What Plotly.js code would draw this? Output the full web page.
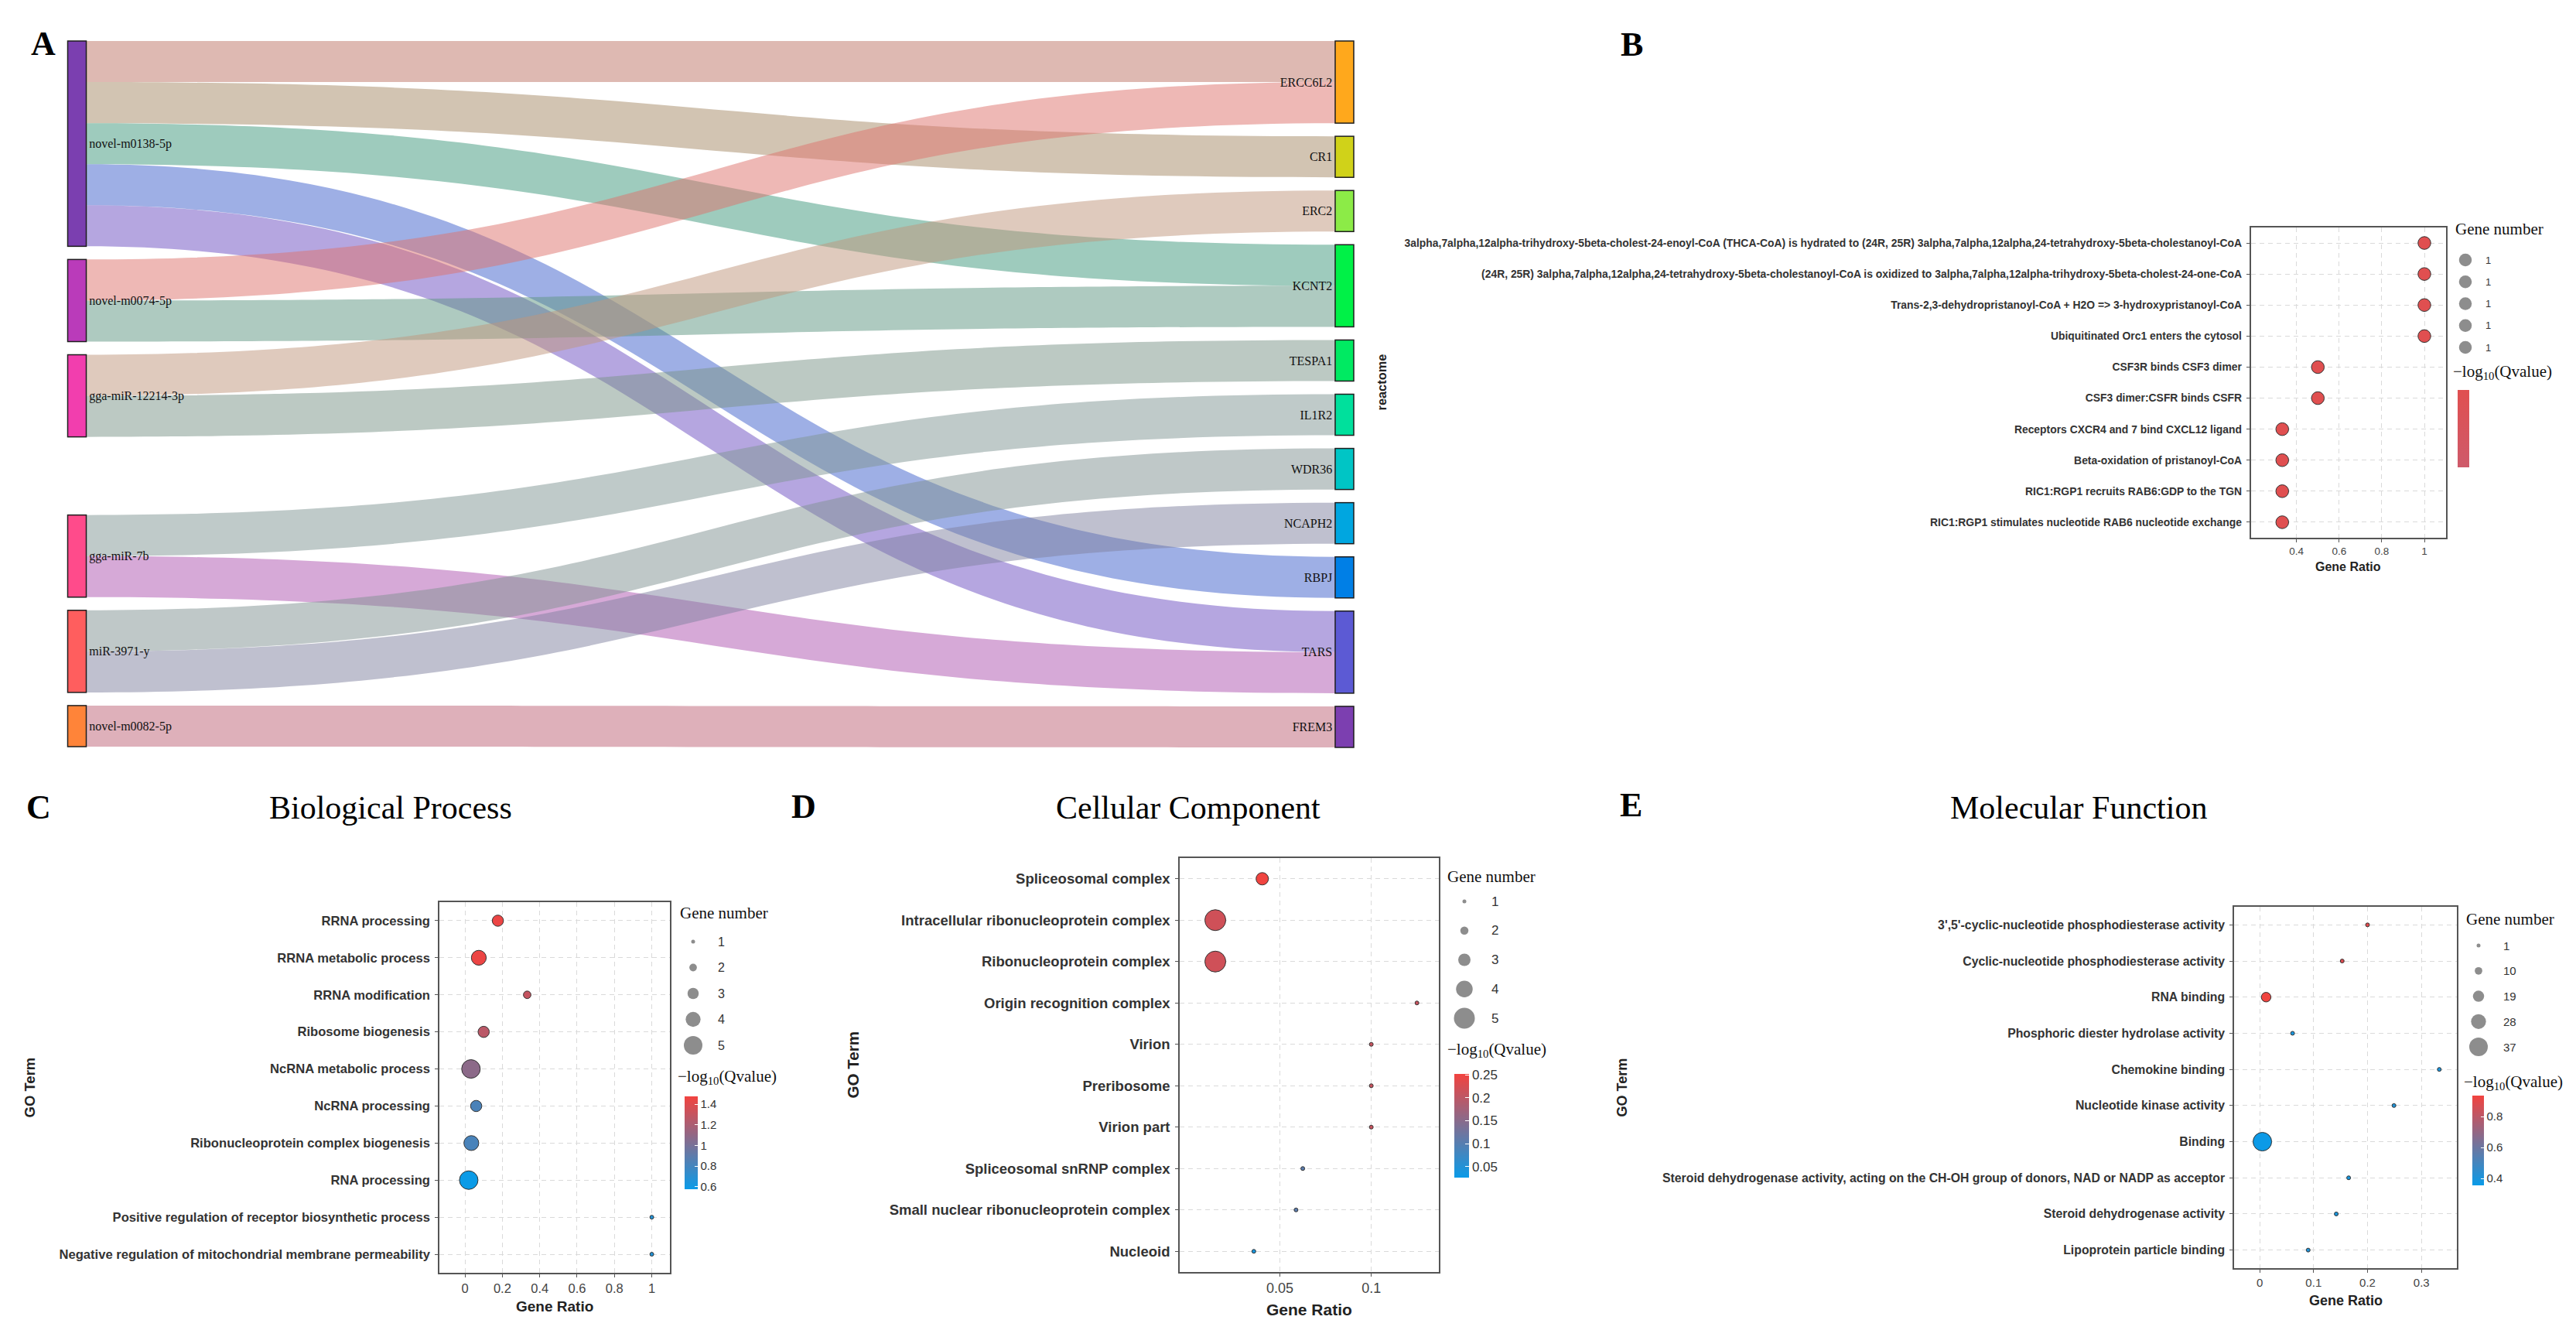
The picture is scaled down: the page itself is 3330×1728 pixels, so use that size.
<!DOCTYPE html>
<html><head><meta charset="utf-8">
<script src="https://cdn.plot.ly/plotly-3.0.1.min.js"></script>
<style>html,body{margin:0;padding:0;background:#fff}#chart{width:3330px;height:1728px}</style>
</head><body><div id="chart"></div>
<script>
// ================= DATA =================
// Panel A : miRNA -> target gene alluvial
const mirnas = ['novel-m0138-5p','novel-m0074-5p','gga-miR-12214-3p','gga-miR-7b','miR-3971-y','novel-m0082-5p'];
const genes = ['ERCC6L2','CR1','ERC2','KCNT2','TESPA1','IL1R2','WDR36','NCAPH2','RBPJ','TARS','FREM3'];
const linkSource = ['novel-m0138-5p','novel-m0138-5p','novel-m0138-5p','novel-m0138-5p','novel-m0138-5p',
  'novel-m0074-5p','novel-m0074-5p','gga-miR-12214-3p','gga-miR-12214-3p','gga-miR-7b','gga-miR-7b',
  'miR-3971-y','miR-3971-y','novel-m0082-5p'];
const linkTarget = ['CR1','ERCC6L2','KCNT2','RBPJ','TARS','ERCC6L2','KCNT2','ERC2','TESPA1','IL1R2','TARS',
  'WDR36','NCAPH2','FREM3'];
const linkValue = [1,1,1,1,1,1,1,1,1,1,1,1,1,1];

// Panel B : reactome
const bTerms = [
 '3alpha,7alpha,12alpha-trihydroxy-5beta-cholest-24-enoyl-CoA (THCA-CoA) is hydrated to (24R, 25R) 3alpha,7alpha,12alpha,24-tetrahydroxy-5beta-cholestanoyl-CoA',
 '(24R, 25R) 3alpha,7alpha,12alpha,24-tetrahydroxy-5beta-cholestanoyl-CoA is oxidized to 3alpha,7alpha,12alpha-trihydroxy-5beta-cholest-24-one-CoA',
 'Trans-2,3-dehydropristanoyl-CoA + H2O => 3-hydroxypristanoyl-CoA',
 'Ubiquitinated Orc1 enters the cytosol',
 'CSF3R binds CSF3 dimer',
 'CSF3 dimer:CSFR binds CSFR',
 'Receptors CXCR4 and 7 bind CXCL12 ligand',
 'Beta-oxidation of pristanoyl-CoA',
 'RIC1:RGP1 recruits RAB6:GDP to the TGN',
 'RIC1:RGP1 stimulates nucleotide RAB6 nucleotide exchange'];
const bRatio = [1,1,1,1,0.5,0.5,0.333,0.333,0.333,0.333];
const bCount = [1,1,1,1,1,1,1,1,1,1];
const bQ = [0.17,0.17,0.17,0.17,0.17,0.17,0.17,0.17,0.17,0.17];
const bLegend = [1,1,1,1,1];

// Panel C : Biological Process
const cTerms = ['RRNA processing','RRNA metabolic process','RRNA modification','Ribosome biogenesis',
 'NcRNA metabolic process','NcRNA processing','Ribonucleoprotein complex biogenesis','RNA processing',
 'Positive regulation of receptor biosynthetic process','Negative regulation of mitochondrial membrane permeability'];
const cRatio = [0.176,0.074,0.333,0.1,0.032,0.06,0.034,0.02,1,1];
const cCount = [3,4,2,3,5,3,4,5,1,1];
const cQ = [1.45,1.45,1.3,1.26,1.08,0.83,0.82,0.58,0.67,0.67];
const cLegend = [1,2,3,4,5];
const cTicks = [0.6,0.8,1,1.2,1.4];

// Panel D : Cellular Component
const dTerms = ['Spliceosomal complex','Intracellular ribonucleoprotein complex','Ribonucleoprotein complex',
 'Origin recognition complex','Virion','Preribosome','Virion part','Spliceosomal snRNP complex',
 'Small nuclear ribonucleoprotein complex','Nucleoid'];
const dRatio = [0.0403,0.0146,0.0146,0.125,0.1,0.1,0.1,0.0625,0.0588,0.0357];
const dCount = [3,5,5,1,1,1,1,1,1,1];
const dQ = [0.25,0.218,0.218,0.21,0.21,0.21,0.21,0.105,0.105,0.04];
const dLegend = [1,2,3,4,5];
const dTicks = [0.05,0.1,0.15,0.2,0.25];

// Panel E : Molecular Function
const eTerms = ["3',5'-cyclic-nucleotide phosphodiesterase activity",'Cyclic-nucleotide phosphodiesterase activity',
 'RNA binding','Phosphoric diester hydrolase activity','Chemokine binding','Nucleotide kinase activity','Binding',
 'Steroid dehydrogenase activity, acting on the CH-OH group of donors, NAD or NADP as acceptor',
 'Steroid dehydrogenase activity','Lipoprotein particle binding'];
const eRatio = [0.2,0.153,0.012,0.061,0.333,0.249,0.005,0.165,0.142,0.09];
const eCount = [1,1,15,1,1,1,37,1,1,1];
const eQ = [0.89,0.88,0.93,0.39,0.40,0.41,0.36,0.39,0.39,0.41];
const eLegend = [1,10,19,28,37];
const eTicks = [0.4,0.6,0.8];

// ================= STYLE / LAYOUT =================
const W = 3330, H = 1728;
const SANS = 'Liberation Sans, Arial, sans-serif';
const SERIF = 'Liberation Serif, Times New Roman, serif';
const px = v => v / W;
const py = v => 1 - v / H;

const mirnaColors = ['#7B3FB0','#BA3BBA','#F23EAE','#FF4B8B','#FF5E5E','#FF8439'];
const geneColors = ['#FFA81C','#D0D219','#8CEB47','#00F147','#00EA62','#00E09C','#00C5C5','#00A6E0','#007FE6','#5C5AD4','#7C3FB0'];

function hex2rgb(h){ return [parseInt(h.slice(1,3),16),parseInt(h.slice(3,5),16),parseInt(h.slice(5,7),16)]; }
function mix(a,b,alpha){ const A=hex2rgb(a),B=hex2rgb(b); return 'rgba('+A.map((v,i)=>Math.round((v+B[i])/2)).join(',')+','+alpha+')'; }

// ----- Sankey geometry -----
const sTop = 53, sBot = 966, sLeft = 0, sRight = 1800, nodePad = 17, nodeThick = 24;
const sH = sBot - sTop, sW = sRight - sLeft;
const nodeLabels = mirnas.concat(genes);
const nodeColors = mirnaColors.concat(geneColors);
const flowOf = name => linkValue.reduce((s,v,i)=> s + ((linkSource[i]===name||linkTarget[i]===name)?v:0), 0);
const totalFlow = linkValue.reduce((a,b)=>a+b,0);
const ky = (sH - (genes.length-1)*nodePad) / totalFlow;
function columnY(names, extraGap){
  let y = 0;
  return names.map((n,i)=>{ y += (extraGap[i]||0); const h = flowOf(n)*ky; const c = y + h/2; y += h + nodePad; return c/sH; });
}
const leftY = columnY(mirnas, [0,0,0,84,0,0]);
const rightY = columnY(genes, []);
const nodeX = mirnas.map(()=> (99.5 - sLeft)/sW).concat(genes.map(()=> (1738 - sLeft)/sW));
const nodeY = leftY.concat(rightY);
const colorOf = n => nodeColors[nodeLabels.indexOf(n)];

const traces = [];
traces.push({
  type:'sankey', arrangement:'fixed', orientation:'h',
  domain:{x:[px(sLeft), px(sRight)], y:[py(sBot), py(sTop)]},
  node:{label:nodeLabels, color:nodeColors, x:nodeX, y:nodeY, pad:nodePad, thickness:nodeThick,
        line:{color:'#1e1e1e', width:1.5}},
  link:{source:linkSource.map(n=>nodeLabels.indexOf(n)), target:linkTarget.map(n=>nodeLabels.indexOf(n)),
        value:linkValue, color:linkSource.map((s,i)=>mix(colorOf(s), colorOf(linkTarget[i]), 0.5))},
  textfont:{family:SERIF, size:16, color:'#111', shadow:'none'}
});

const layout = {
  width:W, height:H, margin:{l:0,r:0,t:0,b:0}, paper_bgcolor:'#fff', plot_bgcolor:'rgba(0,0,0,0)',
  showlegend:false, font:{family:SANS, color:'#333'}, annotations:[]
};
const ann = layout.annotations;
function txt(text,x,y,o){ ann.push(Object.assign({text:text, x:px(x), y:py(y), xref:'paper', yref:'paper',
  showarrow:false, xanchor:'center', yanchor:'middle'}, o||{})); }

const CSCALE = [[0,'#0A9BE8'],[1,'#F2433F']];

function dotPanel(o){
  const n = o.ax, ln = o.ax + 4;
  const sz = v => (o.vmax===o.vmin) ? o.dmax : o.dmin + (o.dmax-o.dmin)*(v-o.vmin)/(o.vmax-o.vmin);
  const cb = {x:px(o.cb.l), xanchor:'left', xpad:0, y:py(o.cb.t), yanchor:'top', ypad:0,
        len:o.cb.len, lenmode:'pixels', thickness:o.cb.th, thicknessmode:'pixels', outlinewidth:0,
        tickfont:{family:SANS, size:o.cb.fs||14, color:'#333'}};
  if (o.cb.ticks) Object.assign(cb, {ticks:'inside', ticklen:Math.round(o.cb.th/4), tickcolor:'#fff', tickwidth:1.2,
        tickvals:o.cb.ticks});
  else Object.assign(cb, {ticks:'', showticklabels:false});
  traces.push({
    type:'scatter', mode:'markers', x:o.ratio, y:o.terms, xaxis:'x'+n, yaxis:'y'+n, cliponaxis:false,
    marker:{size:o.count.map(sz), color:o.q, colorscale:o.cscale, cmin:o.cmin, cmax:o.cmax, opacity:1,
      line:{color:'#333', width:1}, colorbar:cb}
  });
  const tf = {family:SANS, size:o.yfs, color:'#333', weight:700};
  layout['xaxis'+n] = {domain:[px(o.box.l), px(o.box.r)], anchor:'y'+n, range:o.xrange, tickvals:o.xticks,
    showgrid:true, gridcolor:'#DADADA', griddash:'6px,5px', gridwidth:1, zeroline:false,
    showline:true, mirror:true, linecolor:'#555', linewidth:1.5, ticks:'outside', ticklen:4, tickcolor:'#555',
    tickfont:{family:SANS, size:o.xfs, color:'#444'}, fixedrange:true};
  layout['yaxis'+n] = {domain:[py(o.box.b), py(o.box.t)], anchor:'x'+n, type:'category', categoryorder:'array',
    categoryarray:o.terms, range:[o.terms.length-0.5, -0.5], showgrid:true, gridcolor:'#DADADA', griddash:'6px,5px',
    gridwidth:1, zeroline:false, showline:true, mirror:true, linecolor:'#555', linewidth:1.5, ticks:'outside',
    ticklen:4, tickcolor:'#555', ticklabelstandoff:3, tickfont:tf, fixedrange:true};
  // size legend (gene number)
  const L = o.leg, N = o.legend.length;
  traces.push({type:'scatter', mode:'markers', x:o.legend.map(()=>0), y:o.legend.map((v,i)=>i),
    xaxis:'x'+ln, yaxis:'y'+ln, cliponaxis:false, hoverinfo:'skip',
    marker:{size:o.legend.map(sz), color:'#5C5C5C', line:{width:0}}});
  layout['xaxis'+ln] = {domain:[px(L.dotX-15), px(L.dotX+15)], range:[-1,1], visible:false, anchor:'y'+ln, fixedrange:true};
  layout['yaxis'+ln] = {domain:[py(L.y0 + (N-0.5)*L.step), py(L.y0 - 0.5*L.step)], range:[N-0.5,-0.5], visible:false,
    anchor:'x'+ln, fixedrange:true};
  o.legend.forEach((v,i)=>ann.push({text:String(v), x:px(L.labX), xref:'paper', y:i, yref:'y'+ln, showarrow:false,
    xanchor:'left', yanchor:'middle', font:{family:SANS, size:L.fs, color:'#333'}}));
  txt('Gene number', L.titleX, L.titleY, {xanchor:'left', font:{family:SERIF, size:21, color:'#111'}});
  txt('\u2212log<sub>10</sub>(Qvalue)', o.qt.x, o.qt.y, {xanchor:'left', font:{family:SERIF, size:21, color:'#111'}});
}

// B
dotPanel({ax:2, terms:bTerms, ratio:bRatio, count:bCount, q:bQ, vmin:1, vmax:1, dmin:16.5, dmax:16.5,
  cscale:[[0,'#CE5A6A'],[1,'#E04F50']], cmin:0.16, cmax:0.17,
  box:{l:2909.5, r:3162, t:294, b:695}, xrange:[0.185,1.1016], xticks:[0.4,0.6,0.8,1], xfs:13.5, yfs:13.9,
  cb:{l:3177, t:504, len:100, th:15},
  leg:{dotX:3187, labX:3211, y0:336, step:28.25, fs:13, titleX:3172, titleY:296}, legend:bLegend,
  qt:{x:3169, y:481}});
// C
dotPanel({ax:3, terms:cTerms, ratio:cRatio, count:cCount, q:cQ, vmin:1, vmax:5, dmin:5, dmax:24,
  cscale:CSCALE, cmin:0.577, cmax:1.475,
  box:{l:568, r:866, t:1166, b:1645}, xrange:[-0.137,1.097], xticks:[0,0.2,0.4,0.6,0.8,1], xfs:16.5, yfs:16.6,
  cb:{l:885, t:1417, len:120, th:17, ticks:cTicks, fs:15},
  leg:{dotX:896, labX:926, y0:1217, step:33.5, fs:16, titleX:877, titleY:1180}, legend:cLegend,
  qt:{x:874, y:1392}});
// D
dotPanel({ax:4, terms:dTerms, ratio:dRatio, count:dCount, q:dQ, vmin:1, vmax:5, dmin:5, dmax:27,
  cscale:CSCALE, cmin:0.026, cmax:0.252,
  box:{l:1525, r:1860, t:1109, b:1644}, xrange:[-0.0049,0.137], xticks:[0.05,0.1], xfs:18, yfs:18.5,
  cb:{l:1880, t:1388, len:134, th:19, ticks:dTicks, fs:17},
  leg:{dotX:1893, labX:1926, y0:1165, step:37.75, fs:17, titleX:1869, titleY:1133}, legend:dLegend,
  qt:{x:1869, y:1357}});
// E
dotPanel({ax:5, terms:eTerms, ratio:eRatio, count:eCount, q:eQ, vmin:1, vmax:37, dmin:5, dmax:24,
  cscale:CSCALE, cmin:0.355, cmax:0.935,
  box:{l:2888, r:3176, t:1172, b:1639}, xrange:[-0.0474,0.3656], xticks:[0,0.1,0.2,0.3], xfs:15, yfs:15.8,
  cb:{l:3196, t:1416, len:116, th:15, ticks:eTicks, fs:15},
  leg:{dotX:3204, labX:3234, y0:1222, step:32.75, fs:15, titleX:3186, titleY:1188}, legend:eLegend,
  qt:{x:3183, y:1399}});

// panel letters and titles
const LET = {family:SERIF, size:44, color:'#000', weight:700};
txt('A', 56, 56, {font:LET});
txt('B', 2109, 57, {font:LET});
txt('C', 50, 1043, {font:LET});
txt('D', 1039, 1042, {font:LET});
txt('E', 2108, 1040, {font:LET});
const TT = {family:SERIF, size:42, color:'#000'};
txt('Biological Process', 505, 1044, {font:TT});
txt('Cellular Component', 1536, 1044, {font:TT});
txt('Molecular Function', 2687, 1044, {font:TT});
// axis titles
const AT = (s,b)=>({family:SANS, size:s, color:'#222', weight:b?700:400});
txt('reactome', 1786, 494.5, {textangle:-90, font:AT(16.4,true)});
txt('Gene Ratio', 3035.75, 732, {font:AT(16,true)});
txt('Gene Ratio', 717, 1688, {font:AT(19,true)});
txt('GO Term', 38, 1405.5, {textangle:-90, font:AT(18.5,true)});
txt('Gene Ratio', 1692.5, 1692, {font:AT(21,true)});
txt('GO Term', 1102, 1376.5, {textangle:-90, font:AT(20.6,true)});
txt('Gene Ratio', 3032, 1681, {font:AT(18,true)});
txt('GO Term', 2096, 1405.5, {textangle:-90, font:AT(18,true)});

Plotly.newPlot('chart', traces, layout, {displayModeBar:false, responsive:false});
</script>
</body></html>
